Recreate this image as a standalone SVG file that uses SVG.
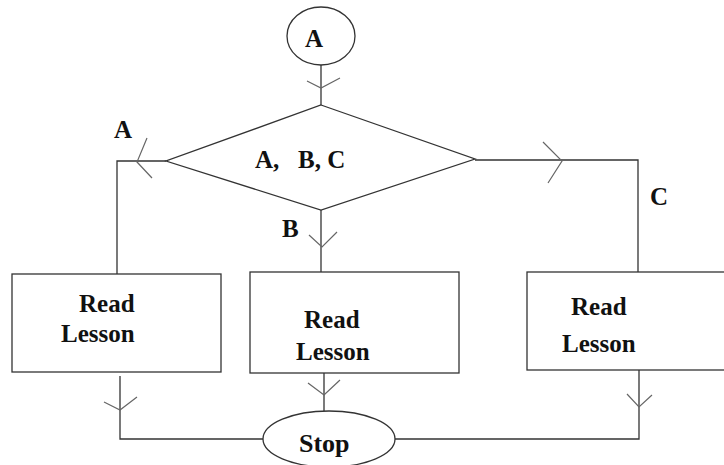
<svg xmlns="http://www.w3.org/2000/svg" width="724" height="465" viewBox="0 0 724 465">
  <style>
    .shape { fill: none; stroke: #333; stroke-width: 1.3; }
    .line { fill: none; stroke: #333; stroke-width: 1.3; }
    .arrow { fill: none; stroke: #666; stroke-width: 1.2; }
    .t { font-family: "Liberation Serif", "Times New Roman", serif; font-weight: bold; font-size: 25px; fill: #111; }
  </style>
  <rect width="724" height="465" fill="#fff"/>
  <g id="connectors">
    <path class="line" d="M321,65 V105"/>
    <polyline class="arrow" points="307,81 321,88 340,78"/>
    <path class="line" d="M166,161 H117 V274"/>
    <polyline class="arrow" points="147,138 137,162 152,178"/>
    <path class="line" d="M321,210 V272"/>
    <polyline class="arrow" points="309,235 322,247 337,232"/>
    <path class="line" d="M475,160 H638 V272"/>
    <polyline class="arrow" points="543,142 562,161 548,183"/>
    <path class="line" d="M120,376 V439 H263"/>
    <polyline class="arrow" points="104,402 120,410 137,397"/>
    <path class="line" d="M324,373 V411"/>
    <polyline class="arrow" points="308,383 324,395 340,380"/>
    <path class="line" d="M639,370 V439 H395"/>
    <polyline class="arrow" points="627,394 639,407 652,395"/>
    <text class="t" x="114" y="138">A</text>
    <text class="t" x="282" y="237">B</text>
    <text class="t" x="650" y="205">C</text>
  </g>
  <g id="start">
    <ellipse class="shape" cx="321" cy="36" rx="34" ry="29"/>
    <text class="t" x="305" y="47">A</text>
  </g>
  <g id="decision">
    <polygon class="shape" points="321,105 475,159 321,210 166,161"/>
    <text class="t" x="255" y="168">A,<tspan x="298">B, C</tspan></text>
  </g>
  <g id="read-a">
    <rect class="shape" x="12" y="274" width="209" height="98"/>
    <text class="t" x="79" y="312">Read</text>
    <text class="t" x="61" y="342">Lesson</text>
  </g>
  <g id="read-b">
    <rect class="shape" x="250" y="272" width="209" height="101"/>
    <text class="t" x="304" y="328">Read</text>
    <text class="t" x="296" y="360">Lesson</text>
  </g>
  <g id="read-c">
    <rect class="shape" x="527" y="272" width="205" height="98"/>
    <text class="t" x="571" y="315">Read</text>
    <text class="t" x="562" y="352">Lesson</text>
  </g>
  <g id="stop">
    <ellipse class="shape" cx="329" cy="439" rx="66" ry="28"/>
    <text class="t" x="299" y="452" style="font-size:26px">Stop</text>
  </g>
</svg>
